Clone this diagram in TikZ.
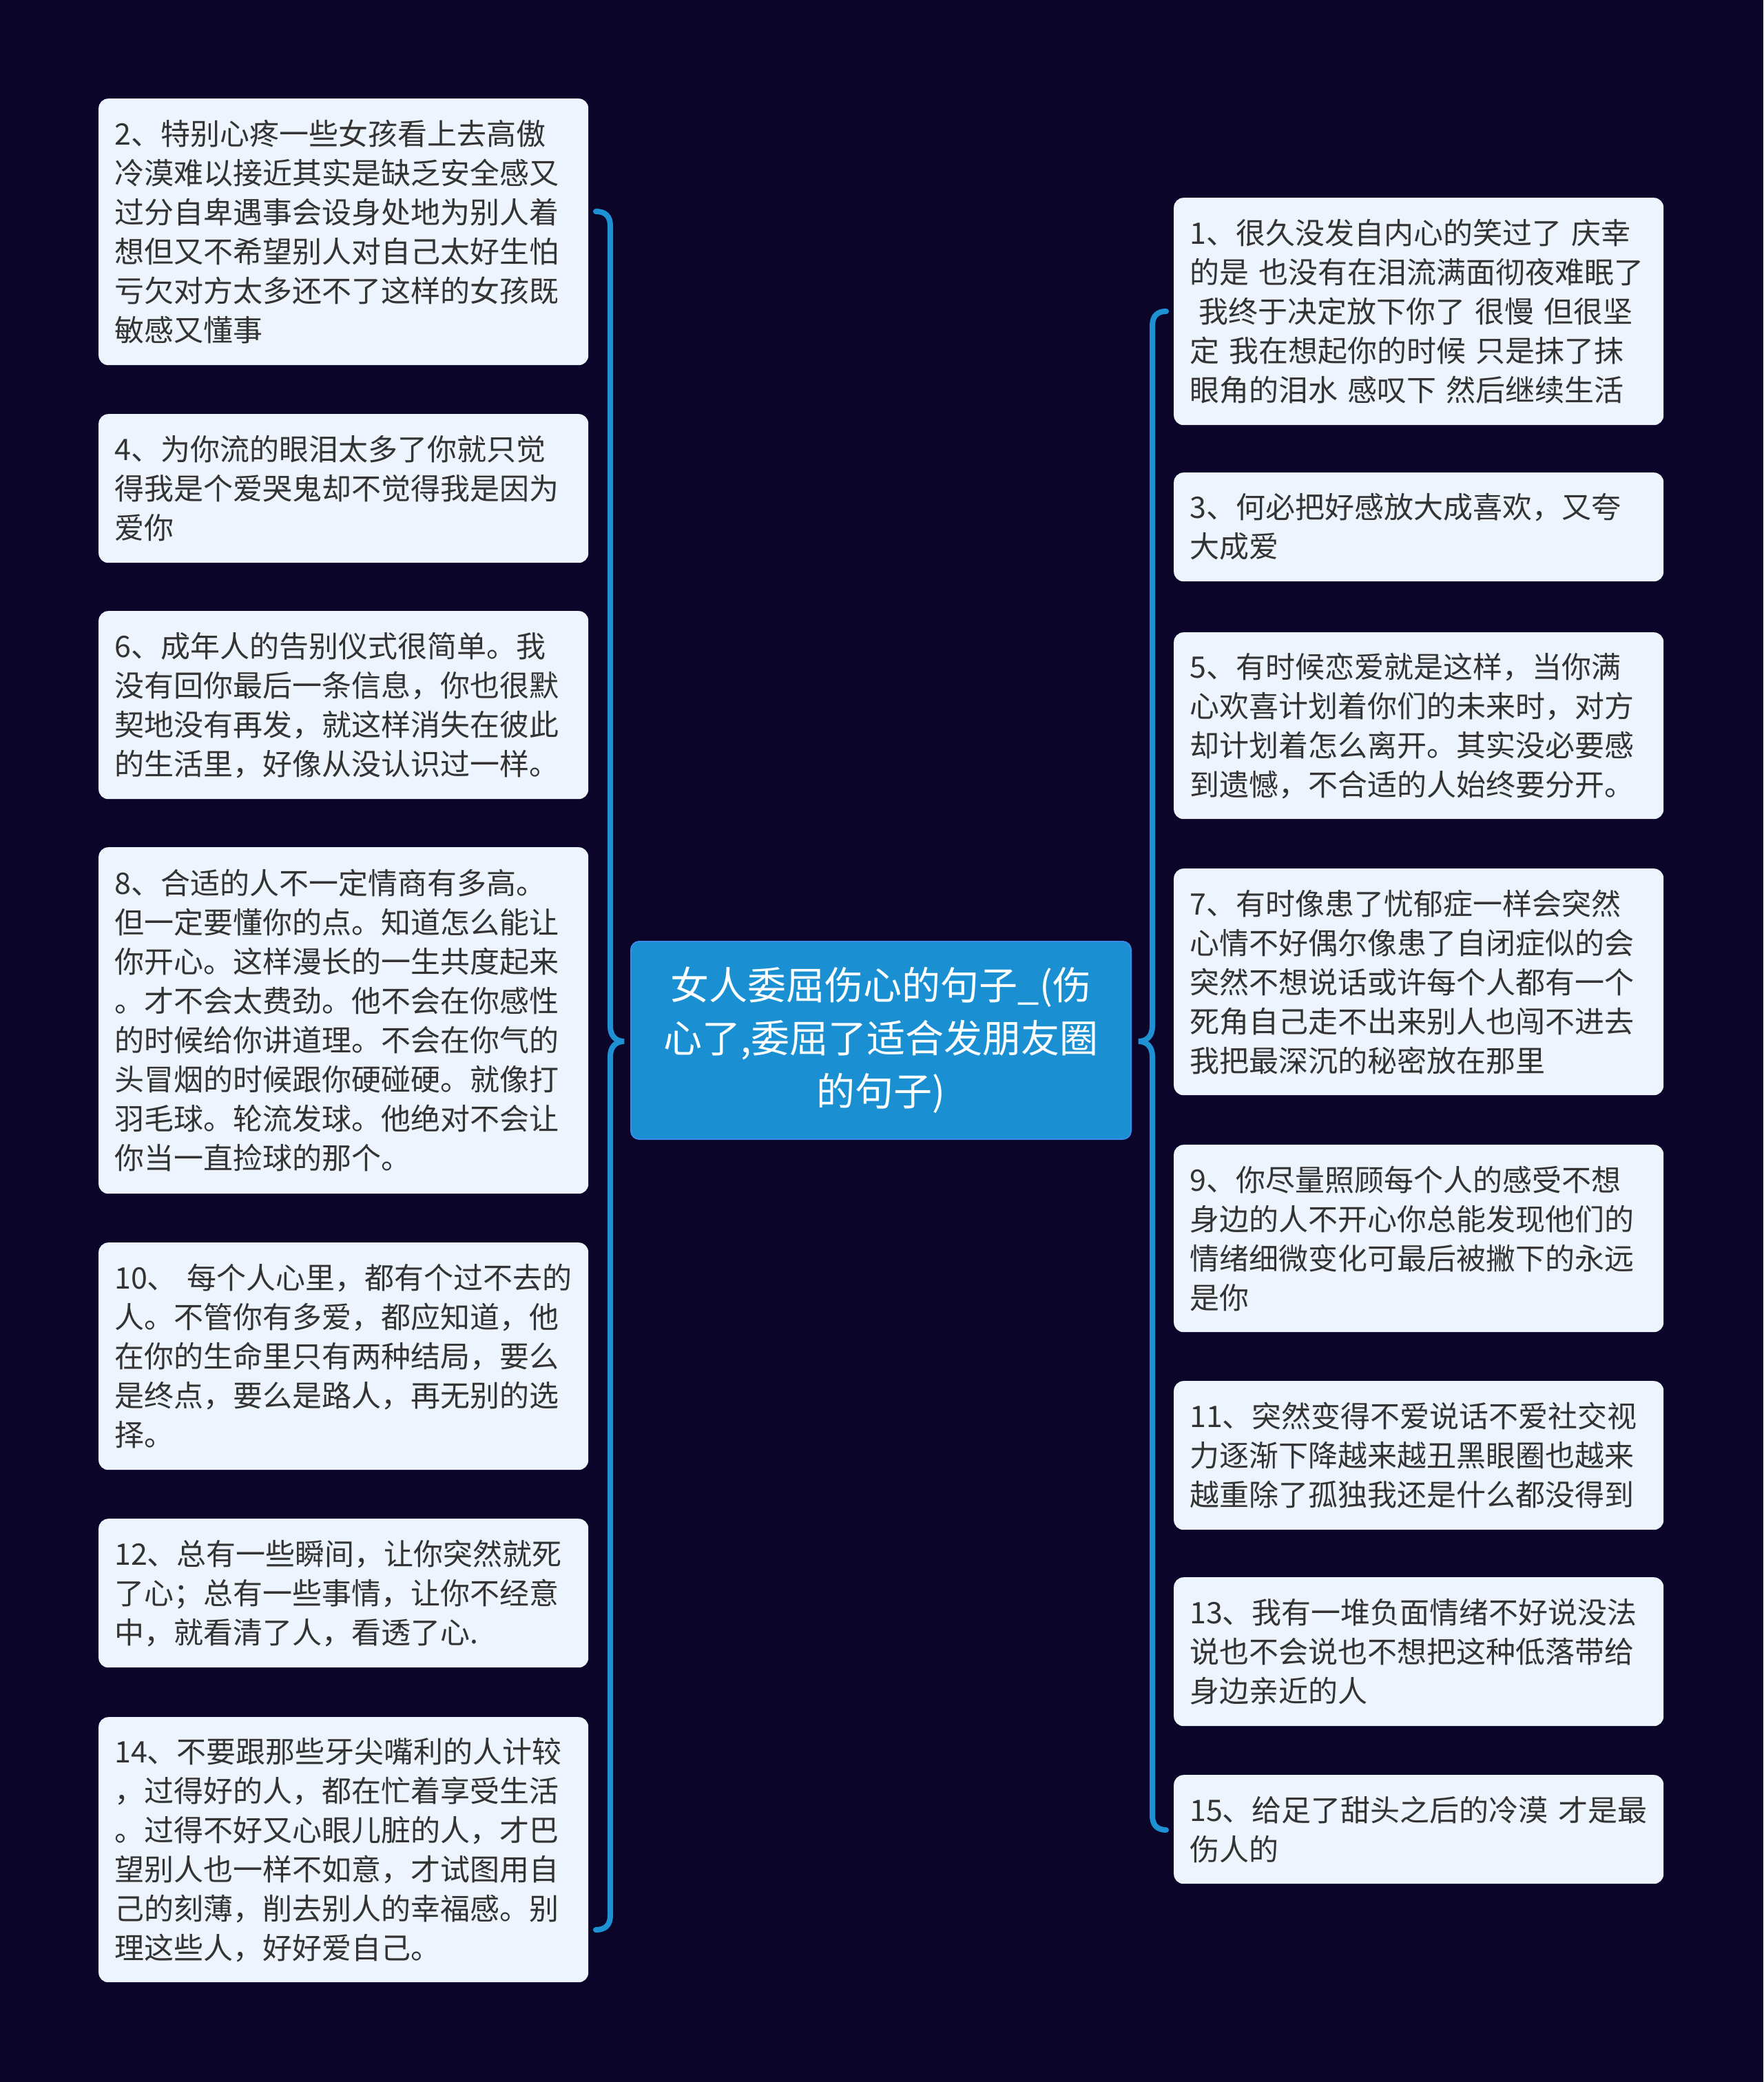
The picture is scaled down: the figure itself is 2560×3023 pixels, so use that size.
\documentclass[tikz,border=0pt]{standalone}
\usepackage{fontspec}
\newfontfamily\cjk{Noto Sans CJK SC}
\usetikzlibrary{calc}
\definecolor{bgc}{HTML}{0A0529}
\definecolor{boxfill}{HTML}{EEF4FD}
\definecolor{txtc}{HTML}{333333}
\definecolor{linec}{HTML}{1E90D4}
\definecolor{mainfill}{HTML}{1A90D2}
\definecolor{mainborder}{HTML}{3B8BE8}
\tikzset{
  leaf/.style={fill=boxfill, rounded corners=14pt, text=txtc,
    font=\cjk\fontsize{43pt}{57pt}\selectfont, align=left,
    inner xsep=23pt, inner ysep=0pt, anchor=north west, text width=665pt},
  mainnode/.style={fill=mainfill, draw=mainborder, line width=2pt, rounded corners=12pt,
    text=white, font=\cjk\fontsize{56pt}{77pt}\selectfont, align=center,
    minimum width=726pt, minimum height=287pt, inner sep=0pt},
  brace/.style={draw=linec, line width=8pt, line cap=round}
}
\newcommand\leafbox[5]{\node[leaf, minimum height=#4pt] (#1) at (#2,#3) {#5};}
\begin{document}
\begin{tikzpicture}[x=1pt,y=-1pt]
\fill[bgc] (0,0) rectangle (2560,3023);
\useasboundingbox (0,0) rectangle (2560,3023);

\node[mainnode] (c) at (1279,1510.5) {女人委屈伤心的句子\_(伤\\心了,委屈了适合发朋友圈\\的句子)};

% left column
\leafbox{n2}{143}{143}{387}{2、特别心疼一些女孩看上去高傲\\冷漠难以接近其实是缺乏安全感又\\过分自卑遇事会设身处地为别人着\\想但又不希望别人对自己太好生怕\\亏欠对方太多还不了这样的女孩既\\敏感又懂事}
\leafbox{n4}{143}{601}{216}{4、为你流的眼泪太多了你就只觉\\得我是个爱哭鬼却不觉得我是因为\\爱你}
\leafbox{n6}{143}{887}{273}{6、成年人的告别仪式很简单。我\\没有回你最后一条信息，你也很默\\契地没有再发，就这样消失在彼此\\的生活里，好像从没认识过一样。}
\leafbox{n8}{143}{1230}{503}{8、合适的人不一定情商有多高。\\但一定要懂你的点。知道怎么能让\\你开心。这样漫长的一生共度起来\\。才不会太费劲。他不会在你感性\\的时候给你讲道理。不会在你气的\\头冒烟的时候跟你硬碰硬。就像打\\羽毛球。轮流发球。他绝对不会让\\你当一直捡球的那个。}
\leafbox{n10}{143}{1804}{330}{10、 每个人心里，都有个过不去的\\人。不管你有多爱，都应知道，他\\在你的生命里只有两种结局，要么\\是终点，要么是路人，再无别的选\\择。}
\leafbox{n12}{143}{2205}{216}{12、总有一些瞬间，让你突然就死\\了心；总有一些事情，让你不经意\\中，就看清了人，看透了心.}
\leafbox{n14}{143}{2493}{385}{14、不要跟那些牙尖嘴利的人计较\\，过得好的人，都在忙着享受生活\\。过得不好又心眼儿脏的人，才巴\\望别人也一样不如意，才试图用自\\己的刻薄，削去别人的幸福感。别\\理这些人，好好爱自己。}

% right column
\leafbox{n1}{1704}{287}{330}{1、很久没发自内心的笑过了 庆幸\\的是 也没有在泪流满面彻夜难眠了\\\hspace*{0.3em}我终于决定放下你了 很慢 但很坚\\定 我在想起你的时候 只是抹了抹\\眼角的泪水 感叹下 然后继续生活}
\leafbox{n3}{1704}{686}{158}{3、何必把好感放大成喜欢，又夸\\大成爱}
\leafbox{n5}{1704}{918}{271}{5、有时候恋爱就是这样，当你满\\心欢喜计划着你们的未来时，对方\\却计划着怎么离开。其实没必要感\\到遗憾，不合适的人始终要分开。}
\leafbox{n7}{1704}{1261}{329}{7、有时像患了忧郁症一样会突然\\心情不好偶尔像患了自闭症似的会\\突然不想说话或许每个人都有一个\\死角自己走不出来别人也闯不进去\\我把最深沉的秘密放在那里}
\leafbox{n9}{1704}{1662}{272}{9、你尽量照顾每个人的感受不想\\身边的人不开心你总能发现他们的\\情绪细微变化可最后被撇下的永远\\是你}
\leafbox{n11}{1704}{2005}{216}{11、突然变得不爱说话不爱社交视\\力逐渐下降越来越丑黑眼圈也越来\\越重除了孤独我还是什么都没得到}
\leafbox{n13}{1704}{2290}{216}{13、我有一堆负面情绪不好说没法\\说也不会说也不想把这种低落带给\\身边亲近的人}
\leafbox{n15}{1704}{2577}{158}{15、给足了甜头之后的冷漠 才是最\\伤人的}

% connectors (braces)
\coordinate (lt) at ($(c.west)+(-9,1.5)$);
\coordinate (rt) at ($(c.east)+(10,1.5)$);
\coordinate (la) at (865,307);
\coordinate (lb) at (865,2802);
\coordinate (ra) at (1693,452);
\coordinate (rb) at (1693,2657);
\path[brace] (la) .. controls (879,307) and (886,314) .. (886,328)
  -- (886,1490) .. controls (886,1504) and (894,1512) .. (lt)
  .. controls (894,1512) and (886,1520) .. (886,1534)
  -- (886,2781) .. controls (886,2795) and (879,2802) .. (lb);
\path[brace] (ra) .. controls (1680,452) and (1673,459) .. (1673,473)
  -- (1673,1490) .. controls (1673,1504) and (1665,1512) .. (rt)
  .. controls (1665,1512) and (1673,1520) .. (1673,1534)
  -- (1673,2636) .. controls (1673,2650) and (1680,2657) .. (rb);
\end{tikzpicture}
\end{document}
